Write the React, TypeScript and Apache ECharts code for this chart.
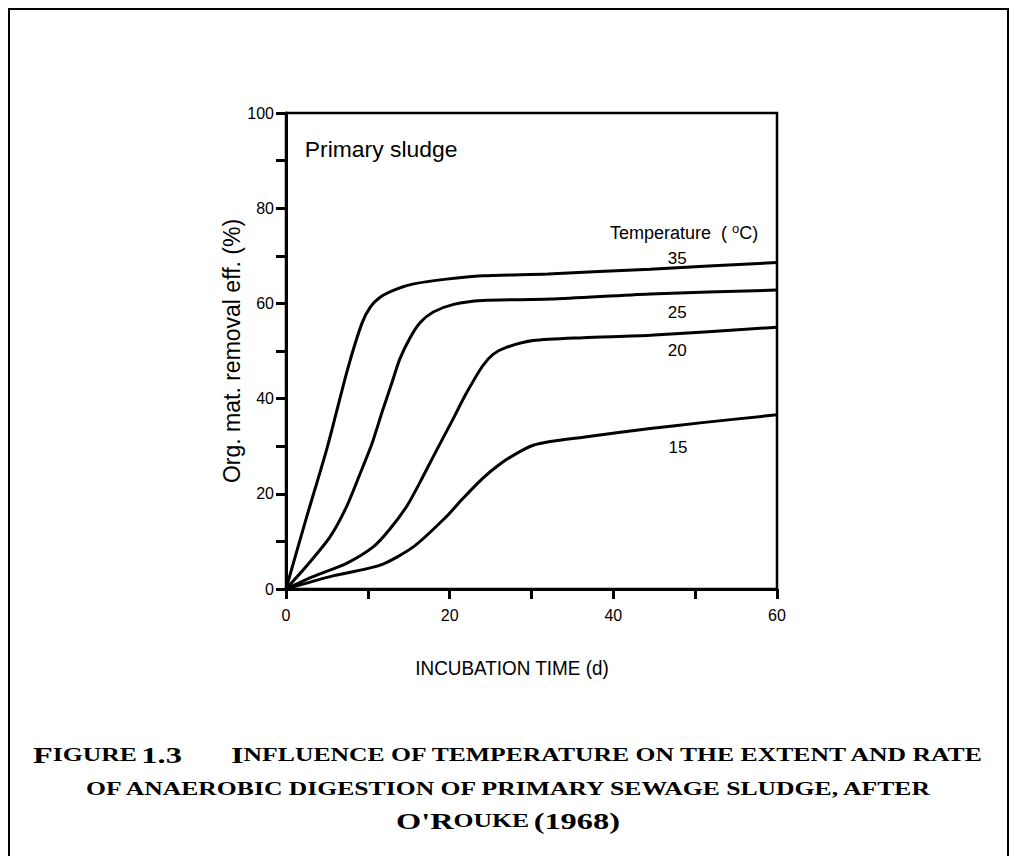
import React, { useEffect, useRef } from "react";
import * as echarts from "echarts";

// Incubation time (d) and organic matter removal efficiency (%) per temperature
const days35 = [0, 2.5, 5, 7.5, 9.25, 10.3, 11.5, 13.5, 15.6, 19.6, 24, 32, 44.5, 60];
const eff35 = [0, 15, 29.5, 46, 55.7, 59.2, 61.3, 63, 64.1, 65.1, 65.8, 66.2, 67.2, 68.6];

const days25 = [0, 2.7, 5.4, 7.4, 9, 10.5, 11.8, 12.9, 13.9, 15.2, 16.4, 18, 20.5, 24, 32.3, 44.5, 60];
const eff25 = [0, 5.2, 11, 17.3, 24, 30.5, 37.5, 43.1, 48.3, 52.9, 56, 58.2, 59.8, 60.6, 60.9, 62, 62.8];

const days20 = [0, 3.3, 7.4, 10.7, 12.7, 14.8, 16.4, 18.2, 20.2, 22, 24, 25.3, 27, 30.2, 36.3, 44.5, 60];
const eff20 = [0, 2.6, 5.4, 8.9, 12.6, 17.5, 22.5, 28.5, 35, 41, 46.8, 49.3, 50.8, 52.2, 52.8, 53.3, 55];

const days15 = [0, 5.4, 11.5, 15.6, 19.6, 21.5, 24, 26.2, 28.2, 30.2, 32.3, 36.3, 44.5, 50.6, 60];
const eff15 = [0, 2.6, 5, 8.9, 15.2, 18.8, 23.2, 26.3, 28.5, 30.2, 31, 31.9, 33.7, 34.9, 36.6];

const temperatures = ["35", "25", "20", "15"];
// where each temperature label sits, in data units
const labelDays = [47.8, 47.8, 47.8, 47.9];
const labelEff = [69.5, 58, 50.2, 29.8];

const xLabelValues = [0, 20, 40, 60];
const yLabelValues = [0, 20, 40, 60, 80, 100];

const SANS = "'Liberation Sans', Arial, Helvetica, sans-serif";
const SERIF = "'Liberation Serif', 'Times New Roman', serif";
const CAP_SCALE = 1.35;

export default function App() {
  const ref = useRef<HTMLDivElement>(null);

  useEffect(() => {
    document.body.style.margin = "0";
    const chart = echarts.init(ref.current!, null, { renderer: "svg" });

    const mk = (d: number[], e: number[], name: string) => ({
      type: "line",
      name,
      data: d.map((v, i) => [v, e[i]]),
      smooth: 0.25,
      showSymbol: false,
      symbol: "none",
      lineStyle: { color: "#000", width: 3 },
      z: 3,
    });

    chart.setOption({
      animation: false,
      backgroundColor: "#fff",
      grid: {
        left: 286,
        right: 239,
        top: 113,
        bottom: 267,
        show: true,
        borderColor: "#000",
        borderWidth: 2.5,
        backgroundColor: "transparent",
      },
      xAxis: {
        type: "value",
        min: 0,
        max: 60,
        interval: 10,
        axisLine: { lineStyle: { color: "#000", width: 3 } },
        axisTick: { length: 10, lineStyle: { color: "#000", width: 3 } },
        splitLine: { show: false },
        axisLabel: {
          margin: 18,
          color: "#000",
          fontSize: 16,
          fontFamily: SANS,
          formatter: (v: number) => (xLabelValues.includes(v) ? String(v) : ""),
        },
      },
      yAxis: {
        type: "value",
        min: 0,
        max: 100,
        interval: 10,
        name: "Org. mat. removal eff. (%)",
        nameLocation: "middle",
        nameGap: 38,
        nameTextStyle: { color: "#000", fontSize: 23, fontFamily: SANS },
        axisLine: { lineStyle: { color: "#000", width: 3 } },
        axisTick: { length: 10, lineStyle: { color: "#000", width: 3 } },
        splitLine: { show: false },
        axisLabel: {
          margin: 12,
          color: "#000",
          fontSize: 16,
          fontFamily: SANS,
          formatter: (v: number) => (yLabelValues.includes(v) ? String(v) : ""),
        },
      },
      series: [
        mk(days35, eff35, "35"),
        mk(days25, eff25, "25"),
        mk(days20, eff20, "20"),
        mk(days15, eff15, "15"),
      ],
    });

    const toPx = (x: number, y: number) =>
      chart.convertToPixel({ xAxisIndex: 0, yAxisIndex: 0 }, [x, y]) as number[];

    const tempLabels = temperatures.map((t, i) => {
      const p = toPx(labelDays[i], labelEff[i]);
      return {
        type: "text",
        x: p[0],
        y: p[1],
        style: {
          text: t,
          font: `17px ${SANS}`,
          fill: "#000",
          align: "center",
          verticalAlign: "middle",
        },
      };
    });
    const tHead = toPx(57.7, 74.8);
    const ps = toPx(2.3, 92.2);

    const capRich = {
      b: { fontSize: 24, fontFamily: SERIF, fontWeight: "bold" },
      s: { fontSize: 19, fontFamily: SERIF, fontWeight: "bold" },
    };

    chart.setOption({
      graphic: [
        {
          type: "rect",
          shape: { x: 9, y: 9, width: 999, height: 880 },
          style: { fill: "none", stroke: "#000", lineWidth: 2 },
        },
        ...tempLabels,
        {
          type: "text",
          x: tHead[0],
          y: tHead[1],
          style: {
            text: "Temperature  ( {sup|o}C)",
            font: `18px ${SANS}`,
            fill: "#000",
            align: "right",
            verticalAlign: "middle",
            rich: {
              sup: { fontSize: 13, fontFamily: SANS, verticalAlign: "top", padding: [0, 0, 9, 0] },
            },
          },
        },
        {
          type: "text",
          x: ps[0],
          y: ps[1],
          scaleX: 1.04,
          style: {
            text: "Primary sludge",
            font: `22px ${SANS}`,
            fill: "#000",
            align: "left",
            verticalAlign: "middle",
          },
        },
        {
          type: "text",
          x: 512,
          y: 668,
          scaleX: 0.9,
          style: {
            text: "INCUBATION TIME (d)",
            font: `21px ${SANS}`,
            fill: "#000",
            align: "center",
            verticalAlign: "middle",
          },
        },
        {
          type: "text",
          x: 33,
          y: 755,
          scaleX: CAP_SCALE,
          style: {
            text: "{b|F}{s|IGURE} {b|1.3}",
            fill: "#000",
            align: "left",
            verticalAlign: "middle",
            rich: capRich,
          },
        },
        {
          type: "text",
          x: 231,
          y: 755,
          scaleX: CAP_SCALE,
          style: {
            text: "{b|I}{s|NFLUENCE OF TEMPERATURE ON THE EXTENT AND RATE}",
            fill: "#000",
            align: "left",
            verticalAlign: "middle",
            rich: capRich,
          },
        },
        {
          type: "text",
          x: 508,
          y: 789,
          scaleX: CAP_SCALE,
          style: {
            text: "{s|OF ANAEROBIC DIGESTION OF PRIMARY SEWAGE SLUDGE, AFTER}",
            fill: "#000",
            align: "center",
            verticalAlign: "middle",
            rich: capRich,
          },
        },
        {
          type: "text",
          x: 508,
          y: 821,
          scaleX: CAP_SCALE,
          style: {
            text: "{b|O'R}{s|OUKE} {b|(1968)}",
            fill: "#000",
            align: "center",
            verticalAlign: "middle",
            rich: capRich,
          },
        },
      ],
    });

    return () => chart.dispose();
  }, []);

  return <div ref={ref} style={{ width: 1016, height: 856 }} />;
}
